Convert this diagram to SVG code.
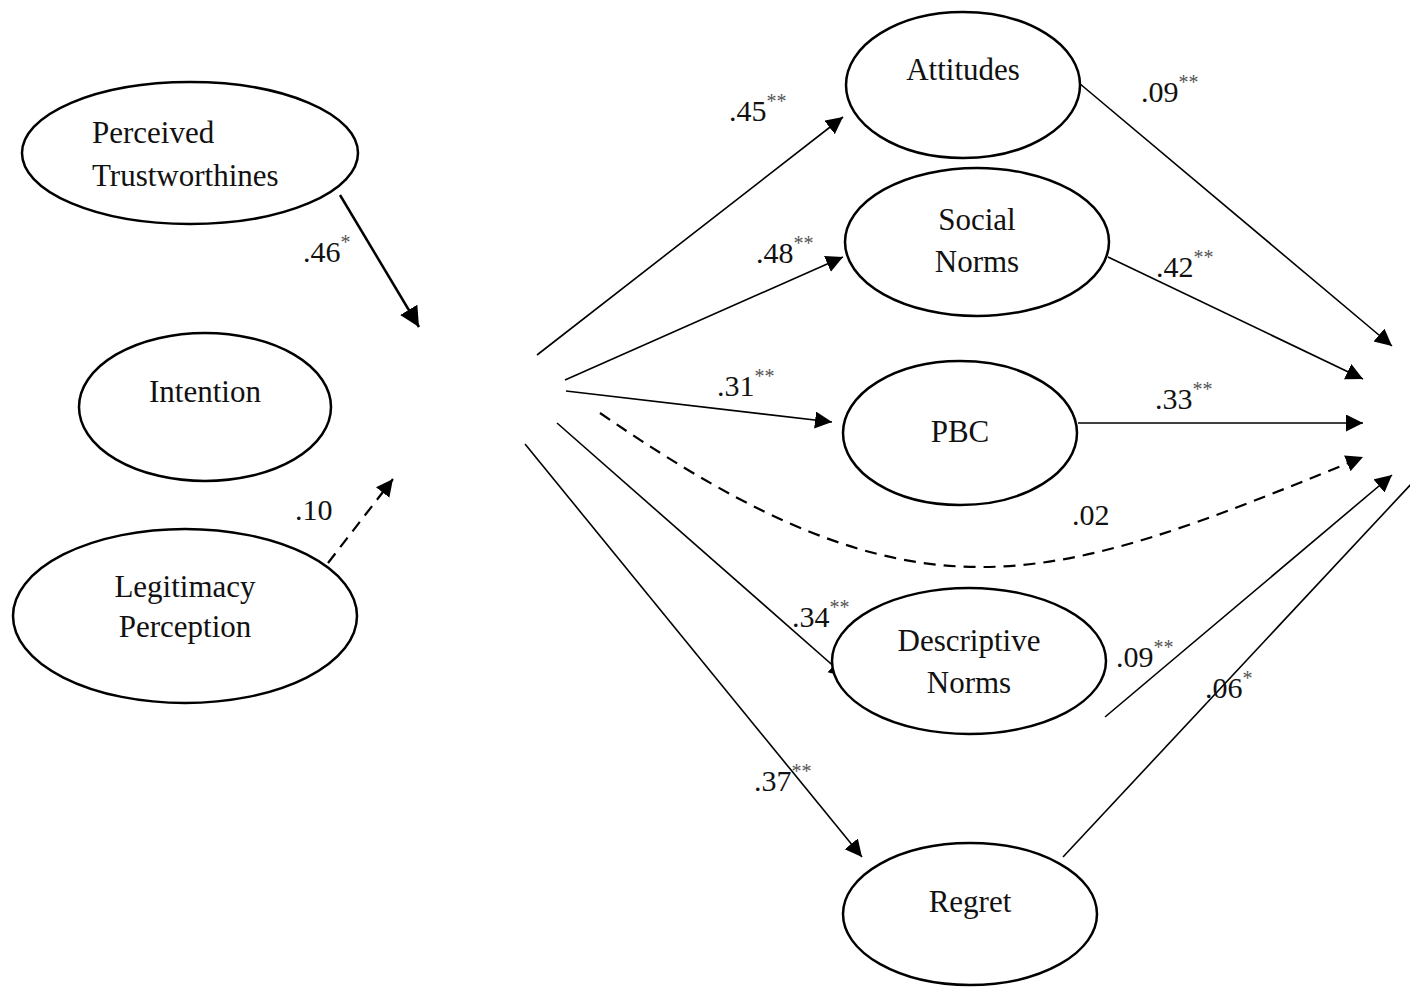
<svg xmlns="http://www.w3.org/2000/svg" width="1410" height="990" viewBox="0 0 1410 990">
<defs>
<style>
.node ellipse{fill:#fff;stroke:#000;stroke-width:2.5}
.lbl{font-family:"Liberation Serif","Times New Roman",serif;font-size:31px;fill:#111}
.mid{text-anchor:middle}
.coef{font-family:"Liberation Serif","Times New Roman",serif;font-size:30px;fill:#111}
.sig{font-size:20px;fill:#555}
.edge{fill:none;stroke:#000;stroke-width:1.6}
.thick{stroke-width:2.5}
.dash{stroke-dasharray:12 8;stroke-width:2.2}
</style>
<marker id="ah" markerUnits="userSpaceOnUse" markerWidth="20" markerHeight="18" refX="17" refY="8.5" orient="auto">
<path d="M0,0 L17,8.5 L0,17 z" fill="#000"/>
</marker>
<marker id="ahb" markerUnits="userSpaceOnUse" markerWidth="22" markerHeight="20" refX="20" refY="10" orient="auto">
<path d="M0,0 L20,10 L0,20 z" fill="#000"/>
</marker>
</defs>
<rect width="1410" height="990" fill="#fff"/>

<g id="connectors">
<line class="edge thick" x1="340" y1="195" x2="419" y2="327" marker-end="url(#ahb)"/>
<line class="edge dash" x1="328" y1="563" x2="393" y2="479" marker-end="url(#ah)"/>
<line class="edge" x1="537" y1="355" x2="843" y2="117" marker-end="url(#ah)"/>
<line class="edge" x1="565" y1="380" x2="843" y2="257" marker-end="url(#ah)"/>
<line class="edge" x1="566" y1="391" x2="832" y2="422" marker-end="url(#ah)"/>
<path class="edge dash" d="M600,413 C920,634 1043,588 1363,457" marker-end="url(#ah)"/>
<line class="edge" x1="557" y1="423" x2="846" y2="677" marker-end="url(#ah)"/>
<line class="edge" x1="525" y1="444" x2="862" y2="857" marker-end="url(#ah)"/>
<line class="edge" x1="1079" y1="83" x2="1392" y2="346" marker-end="url(#ah)"/>
<line class="edge" x1="1108" y1="257" x2="1363" y2="379" marker-end="url(#ah)"/>
<line class="edge" x1="1078" y1="423" x2="1363" y2="423" marker-end="url(#ah)"/>
<line class="edge" x1="1105" y1="717" x2="1392" y2="475" marker-end="url(#ah)"/>
<line class="edge" x1="1063" y1="857" x2="1428" y2="466" marker-end="url(#ah)"/>
</g>

<g id="coefficients">
<text class="coef" x="303" y="262">.46<tspan class="sig" dy="-13">*</tspan></text>
<text class="coef" x="295" y="520">.10</text>
<text class="coef" x="729" y="121">.45<tspan class="sig" dy="-13">**</tspan></text>
<text class="coef" x="756" y="263">.48<tspan class="sig" dy="-13">**</tspan></text>
<text class="coef" x="717" y="396">.31<tspan class="sig" dy="-13">**</tspan></text>
<text class="coef" x="792" y="627">.34<tspan class="sig" dy="-13">**</tspan></text>
<text class="coef" x="754" y="791">.37<tspan class="sig" dy="-13">**</tspan></text>
<text class="coef" x="1141" y="102">.09<tspan class="sig" dy="-13">**</tspan></text>
<text class="coef" x="1156" y="277">.42<tspan class="sig" dy="-13">**</tspan></text>
<text class="coef" x="1155" y="409">.33<tspan class="sig" dy="-13">**</tspan></text>
<text class="coef" x="1072" y="525">.02</text>
<text class="coef" x="1116" y="667">.09<tspan class="sig" dy="-13">**</tspan></text>
<text class="coef" x="1205" y="698">.06<tspan class="sig" dy="-13">*</tspan></text>
</g>

<g id="perceived-trustworthiness" class="node">
<ellipse cx="190" cy="153" rx="168" ry="71"/>
<text class="lbl" x="92" y="143">Perceived</text>
<text class="lbl" x="92" y="186">Trustworthines</text>
</g>
<g id="intention" class="node">
<ellipse cx="205" cy="407" rx="126" ry="74"/>
<text class="lbl mid" x="205" y="402">Intention</text>
</g>
<g id="legitimacy-perception" class="node">
<ellipse cx="185" cy="616" rx="172" ry="87"/>
<text class="lbl mid" x="185" y="597">Legitimacy</text>
<text class="lbl mid" x="185" y="637">Perception</text>
</g>
<g id="attitudes" class="node">
<ellipse cx="963" cy="85" rx="117" ry="73"/>
<text class="lbl mid" x="963" y="80">Attitudes</text>
</g>
<g id="social-norms" class="node">
<ellipse cx="977" cy="242" rx="132" ry="74"/>
<text class="lbl mid" x="977" y="230">Social</text>
<text class="lbl mid" x="977" y="272">Norms</text>
</g>
<g id="pbc" class="node">
<ellipse cx="960" cy="433" rx="117" ry="72"/>
<text class="lbl mid" x="960" y="442">PBC</text>
</g>
<g id="descriptive-norms" class="node">
<ellipse cx="969" cy="661" rx="137" ry="73"/>
<text class="lbl mid" x="969" y="651">Descriptive</text>
<text class="lbl mid" x="969" y="693">Norms</text>
</g>
<g id="regret" class="node">
<ellipse cx="970" cy="914" rx="127" ry="71"/>
<text class="lbl mid" x="970" y="912">Regret</text>
</g>
</svg>
